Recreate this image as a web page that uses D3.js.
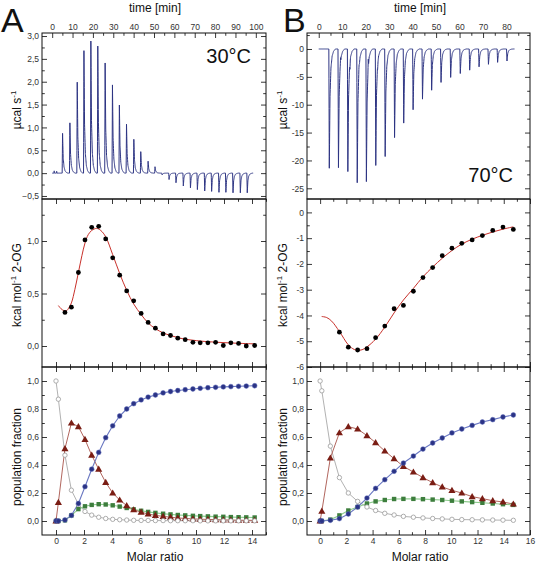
<!DOCTYPE html>
<html><head><meta charset="utf-8">
<script src="https://cdn.jsdelivr.net/npm/d3@7"></script>
<style>body{margin:0;background:#fff} svg{display:block} text{font-family:Arial,"Liberation Sans",sans-serif}</style>
</head><body><svg id="c" width="537" height="565"></svg>
<script>
// ---------- DATA ----------
// Panel A (30°C) thermogram: injection times [min] and peak heights [µcal/s]
const injTimesA = [4.9,8.5,12.1,15.4,18.8,22.2,25.8,29.4,32.8,36.3,39.9,43.3,46.9,50.3,53.8,57.2,60.6,64.2,67.7,71.1,74.7,78.1,81.7,85.1,88.6,92.2,95.6];
const peaksA = [0.87,1.10,1.99,2.68,2.89,2.78,2.41,1.93,1.49,1.07,0.74,0.47,0.26,0.14,-0.04,-0.14,-0.21,-0.28,-0.32,-0.36,-0.39,-0.40,-0.42,-0.42,-0.43,-0.43,-0.43];
const blipsA = [[1.0,0.05],[2.2,0.04]];
const endTimeA = 98.7;
// Panel B (70°C) thermogram
const injTimesB = [4.3,8.2,12.2,16.2,20.1,24.1,28.1,32.1,36.0,40.0,44.0,47.9,51.9,56.0,60.1,64.1,68.1,72.1,76.0,80.0];
const peaksB = [-21.4,-21.3,-22.0,-24.0,-23.8,-20.9,-19.3,-15.9,-13.3,-10.9,-9.0,-7.4,-6.0,-5.1,-4.4,-3.8,-3.2,-2.75,-2.4,-2.15];
const blipsB = [[9.3,1.0],[13.3,-1.0],[17.2,0.5],[21.1,1.5],[25.1,-0.7]];
const endTimeB = 83.4;
// normalised injection peak shape
const pulseDt = [0,0.2,0.5,0.9,1.4,2.0,2.8];
const pulseFrac = [0,1,0.4,0.16,0.06,0.02,0];

// Integrated heats
const ratioA = [0.64,1.10,1.60,2.07,2.55,3.05,3.55,4.05,4.55,5.05,5.55,6.08,6.58,7.10,7.65,8.18,8.70,9.23,9.78,10.30,10.85,11.40,11.95,12.49,13.04,13.59,14.19];
const heatA = [0.32,0.37,0.70,1.01,1.13,1.14,1.02,0.84,0.675,0.525,0.43,0.31,0.225,0.17,0.115,0.10,0.075,0.06,0.035,0.03,0.03,0.035,0.005,0.03,0.025,0.0,0.005];
const fitAx = [0.17,0.45,0.74,0.9,1.1,1.35,1.6,1.85,2.07,2.3,2.55,2.9,3.2,3.55,4.05,4.55,5.05,5.55,6.08,6.58,7.1,7.65,8.18,8.7,9.2,9.8,10.3,11,12,13,14.2];
const fitAy = [0.385,0.345,0.335,0.36,0.41,0.54,0.70,0.86,0.98,1.06,1.10,1.12,1.10,1.04,0.87,0.69,0.53,0.40,0.30,0.22,0.165,0.125,0.10,0.08,0.065,0.055,0.047,0.04,0.032,0.026,0.02];

const ratioB = [1.47,2.15,2.86,3.57,4.23,4.93,5.64,6.35,7.11,7.84,8.58,9.31,10.05,10.8,11.59,12.37,13.16,13.94,14.73];
const heatB = [-4.65,-5.23,-5.34,-5.29,-4.86,-4.41,-3.74,-3.61,-3.06,-2.53,-2.14,-1.68,-1.39,-1.2,-1.07,-0.9,-0.70,-0.57,-0.66];
const fitBx = [0.12,0.5,0.88,1.47,2.15,2.6,2.86,3.2,3.57,4.23,4.93,5.64,6.35,7.11,7.84,8.58,9.31,10.05,10.8,11.59,12.37,13.16,13.94,14.73];
const fitBy = [-4.04,-4.08,-4.22,-4.62,-5.14,-5.32,-5.35,-5.33,-5.22,-4.92,-4.45,-3.9,-3.4,-2.95,-2.5,-2.12,-1.78,-1.48,-1.23,-1.04,-0.89,-0.76,-0.65,-0.56];

// Population fractions
const popRatioA = [0,0.17].concat(ratioA);
const freeA  = [1.0,0.87,0.47,0.22,0.12,0.068,0.042,0.027,0.018,0.012,0.009,0.007,0.005,0.004,0.004,0.003,0.003,0.002,0.002,0.002,0.002,0.001,0.001,0.001,0.001,0.001,0.001,0.001,0.001];
const redA   = [0,0.133,0.517,0.70,0.674,0.583,0.47,0.37,0.276,0.20,0.15,0.11,0.08,0.063,0.05,0.04,0.033,0.027,0.022,0.018,0.015,0.013,0.011,0.01,0.008,0.007,0.006,0.005,0.005];
const blueA  = [0,0,0.007,0.04,0.125,0.245,0.37,0.49,0.595,0.68,0.75,0.80,0.838,0.865,0.885,0.90,0.915,0.925,0.932,0.938,0.943,0.948,0.952,0.955,0.958,0.96,0.962,0.964,0.966];
const greenA = [0,0,0.005,0.04,0.085,0.105,0.115,0.12,0.118,0.112,0.103,0.093,0.083,0.073,0.065,0.058,0.052,0.047,0.043,0.04,0.037,0.035,0.033,0.031,0.03,0.028,0.027,0.026,0.025];

const popRatioB = [0,0.13,0.78].concat(ratioB);
const freeB  = [1.0,0.93,0.535,0.31,0.20,0.14,0.10,0.075,0.055,0.043,0.033,0.027,0.022,0.018,0.015,0.012,0.010,0.009,0.008,0.007,0.006,0.005];
const redB   = [0,0.07,0.45,0.63,0.674,0.657,0.61,0.56,0.50,0.445,0.39,0.35,0.31,0.274,0.243,0.219,0.20,0.174,0.16,0.145,0.136,0.121];
const blueB  = [0,0,0.005,0.017,0.05,0.10,0.164,0.233,0.295,0.355,0.414,0.464,0.514,0.557,0.593,0.629,0.657,0.683,0.707,0.724,0.743,0.757];
const greenB = [0,0,0.01,0.04,0.075,0.10,0.125,0.14,0.15,0.157,0.158,0.158,0.156,0.153,0.15,0.145,0.14,0.135,0.13,0.125,0.12,0.115];

// ---------- LAYOUT ----------
const svg = d3.select("#c");
const colA = [42,266], colB = [307,530];
const rowT = [33,199], rowM = [199,367], rowL = [367,535];
const commaFmt = d => d3.format(".1f")(d).replace(".", ",");
const intFmt = d => String(d);

const sc = {
  At: {x: d3.scaleLinear([-5,105], colA), y: d3.scaleLinear([-0.566,3.066],[rowT[1],rowT[0]])},
  Am: {x: d3.scaleLinear([-1,15], colA), y: d3.scaleLinear([-0.2,1.4],[rowM[1],rowM[0]])},
  Al: {x: d3.scaleLinear([-1,15], colA), y: d3.scaleLinear([-0.1,1.1],[rowL[1],rowL[0]])},
  Bt: {x: d3.scaleLinear([-5,90], colB), y: d3.scaleLinear([-26.92,2.87],[rowT[1],rowT[0]])},
  Bm: {x: d3.scaleLinear([-1,16], colB), y: d3.scaleLinear([-6,0.52],[rowM[1],rowM[0]])},
  Bl: {x: d3.scaleLinear([-1,16], colB), y: d3.scaleLinear([-0.1,1.1],[rowL[1],rowL[0]])}
};

const range = (a,b,s) => d3.range(a, b + s/2, s).map(v => +v.toFixed(4));

function styleAxis(g){
  g.select(".domain").remove();
  g.selectAll("line").attr("stroke","#222").attr("stroke-width",0.9);
  g.selectAll("text").attr("fill","#333").style("font-size","8.5px").style("font-family","Arial, 'Liberation Sans', sans-serif");
}
function axis(kind, scale, pos, major, minor, fmt, labels){
  const mk = {left:d3.axisLeft, right:d3.axisRight, top:d3.axisTop, bottom:d3.axisBottom}[kind];
  const tr = (kind==="left"||kind==="right") ? `translate(${pos},0)` : `translate(0,${pos})`;
  svg.append("g").attr("transform",tr)
    .call(mk(scale).tickValues(major).tickSize(-5).tickPadding(3).tickFormat(labels ? fmt : ""))
    .call(styleAxis);
  if (minor && minor.length)
    svg.append("g").attr("transform",tr)
      .call(mk(scale).tickValues(minor).tickSize(-2.8).tickFormat(""))
      .call(styleAxis);
}
function yAxes(p, col, major, minor, fmt){
  axis("left", p.y, col[0], major, minor, fmt, true);
  axis("right", p.y, col[1], major, minor, fmt, false);
}

// thermogram trace built from read injection times / peak heights
const pulse = d3.scaleLinear(pulseDt, pulseFrac).clamp(true);
const blip = d3.scaleLinear([-0.15,0,0.15],[0,1,0]).clamp(true);
function trace(times, peaks, blips, tEnd){
  const pts = [];
  for (let k = 0; k <= Math.round(tEnd/0.05); k++){
    const t = k*0.05;
    let v = 0;
    times.forEach((ti,i) => { const dt = t - ti; if (dt >= 0 && dt <= 2.8) v += peaks[i]*pulse(dt); });
    blips.forEach(b => { const dt = t - b[0]; if (Math.abs(dt) < 0.15) v += b[1]*blip(dt); });
    pts.push([t, v]);
  }
  return pts;
}

// ---------- TOP PANELS ----------
function topPanel(p, times, peaks, blips, tEnd){
  const pts = trace(times, peaks, blips, tEnd);
  svg.append("path").attr("d", d3.line().x(d=>p.x(d[0])).y(d=>p.y(d[1]))(pts))
    .attr("fill","none").attr("stroke","#2d3483").attr("stroke-width",1);
}
topPanel(sc.At, injTimesA, peaksA, blipsA, endTimeA);
topPanel(sc.Bt, injTimesB, peaksB, blipsB, endTimeB);

// ---------- MIDDLE PANELS ----------
function midPanel(p, xs, ys, fx, fy){
  const fit = fx.map((x,i)=>[x, fy[i]]);
  svg.append("path").attr("d", d3.line().curve(d3.curveCatmullRom).x(d=>p.x(d[0])).y(d=>p.y(d[1]))(fit))
    .attr("fill","none").attr("stroke","#c8302a").attr("stroke-width",1);
  svg.append("g").selectAll("circle").data(xs.map((x,i)=>[x, ys[i]])).join("circle")
    .attr("cx",d=>p.x(d[0])).attr("cy",d=>p.y(d[1])).attr("r",2.4).attr("fill","#000");
}
midPanel(sc.Am, ratioA, heatA, fitAx, fitAy);
midPanel(sc.Bm, ratioB, heatB, fitBx, fitBy);

// ---------- BOTTOM PANELS ----------
function popPanel(p, xs, free, red, blue, green){
  const ln = (vals, color, w) => svg.append("path")
    .attr("d", d3.line().x((d,i)=>p.x(xs[i])).y(d=>p.y(d))(vals))
    .attr("fill","none").attr("stroke",color).attr("stroke-width",w);
  ln(free, "#a8a8a8", 0.9);
  ln(green, "#8fcc8f", 1.1);
  ln(red, "#a8554c", 0.9);
  ln(blue, "#6a78c2", 1.1);
  const data = v => v.map((d,i)=>[xs[i], d]);
  svg.append("g").selectAll("rect").data(data(green)).join("rect")
    .attr("x",d=>p.x(d[0])-2.2).attr("y",d=>p.y(d[1])-2.2).attr("width",4.4).attr("height",4.4)
    .attr("fill","#3d7e3d");
  svg.append("g").selectAll("path").data(data(red)).join("path")
    .attr("transform",d=>`translate(${p.x(d[0])},${p.y(d[1])+0.5})`)
    .attr("d", d3.symbol(d3.symbolTriangle, 22)()).attr("fill","#7a1d14");
  svg.append("g").selectAll("circle").data(data(free)).join("circle")
    .attr("cx",d=>p.x(d[0])).attr("cy",d=>p.y(d[1])).attr("r",2.2)
    .attr("fill","#fff").attr("stroke","#9a9a9a").attr("stroke-width",0.8);
  svg.append("g").selectAll("circle").data(data(blue)).join("circle")
    .attr("cx",d=>p.x(d[0])).attr("cy",d=>p.y(d[1])).attr("r",2.4)
    .attr("fill","#2b3385").attr("stroke","#5a68b8").attr("stroke-width",0.5);
}
popPanel(sc.Al, popRatioA, freeA, redA, blueA, greenA);
popPanel(sc.Bl, popRatioB, freeB, redB, blueB, greenB);

// ---------- AXES ----------
// A
axis("top", sc.At.x, rowT[0], range(0,100,10), range(5,95,10), intFmt, true);
yAxes(sc.At, colA, range(-0.5,3,0.5), range(-0.25,2.75,0.5), commaFmt);
axis("top", sc.Am.x, rowM[0], range(0,14,2), range(1,15,2), intFmt, false);
axis("bottom", sc.Am.x, rowM[1], range(0,14,2), range(1,15,2), intFmt, false);
yAxes(sc.Am, colA, [0,0.5,1.0], [0.25,0.75,1.25], commaFmt);
axis("top", sc.Al.x, rowL[0], range(0,14,2), range(1,15,2), intFmt, false);
axis("bottom", sc.Al.x, rowL[1], range(0,14,2), range(1,15,2), intFmt, true);
yAxes(sc.Al, colA, range(0,1,0.2), range(0.1,0.9,0.2), commaFmt);
// B
axis("top", sc.Bt.x, rowT[0], range(0,80,10), range(5,85,10), intFmt, true);
yAxes(sc.Bt, colB, range(-25,0,5), range(-22.5,2.5,5), intFmt);
axis("top", sc.Bm.x, rowM[0], range(0,16,2), range(1,15,2), intFmt, false);
axis("bottom", sc.Bm.x, rowM[1], range(0,16,2), range(1,15,2), intFmt, false);
yAxes(sc.Bm, colB, range(-6,0,1), range(-5.5,-0.5,1), intFmt);
axis("top", sc.Bl.x, rowL[0], range(0,16,2), range(1,15,2), intFmt, false);
axis("bottom", sc.Bl.x, rowL[1], range(0,16,2), range(1,15,2), intFmt, true);
yAxes(sc.Bl, colB, range(0,1,0.2), range(0.1,0.9,0.2), commaFmt);

// frames
[colA, colB].forEach(c => [rowT,rowM,rowL].forEach(r => {
  svg.append("rect").attr("x",c[0]).attr("y",r[0]).attr("width",c[1]-c[0]).attr("height",r[1]-r[0])
    .attr("fill","none").attr("stroke","#111").attr("stroke-width",1);
}));

// ---------- TEXT ----------
function txt(x,y,s,size,anchor){
  return svg.append("text").attr("x",x).attr("y",y).attr("text-anchor",anchor||"middle")
    .style("font-size",size+"px").attr("fill","#111").text(s);
}
txt(155,12,"time [min]",12);
txt(420,12,"time [min]",12);
txt(155,561,"Molar ratio",12);
txt(420,561,"Molar ratio",12);
txt(1,32,"A",34,"start");
txt(283,32,"B",34,"start");
txt(251,63,"30°C",20,"end");
txt(513,182,"70°C",20,"end");

function vlabel(cx, cy, main, sup, rest){
  const t = svg.append("text").attr("transform",`translate(${cx},${cy}) rotate(-90)`)
    .attr("text-anchor","middle").style("font-size","12px").attr("fill","#111");
  t.append("tspan").text(main);
  if (sup){
    t.append("tspan").attr("dy",-5).style("font-size","8px").text(sup);
    t.append("tspan").attr("dy",5).text(rest || "");
  }
}
vlabel(21,110,"µcal s","-1","");
vlabel(287,110,"µcal s","-1","");
vlabel(21,285,"kcal mol","-1"," 2-OG");
vlabel(287,285,"kcal mol","-1"," 2-OG");
vlabel(21,457,"population fraction");
vlabel(287,457,"population fraction");
</script></body></html>
